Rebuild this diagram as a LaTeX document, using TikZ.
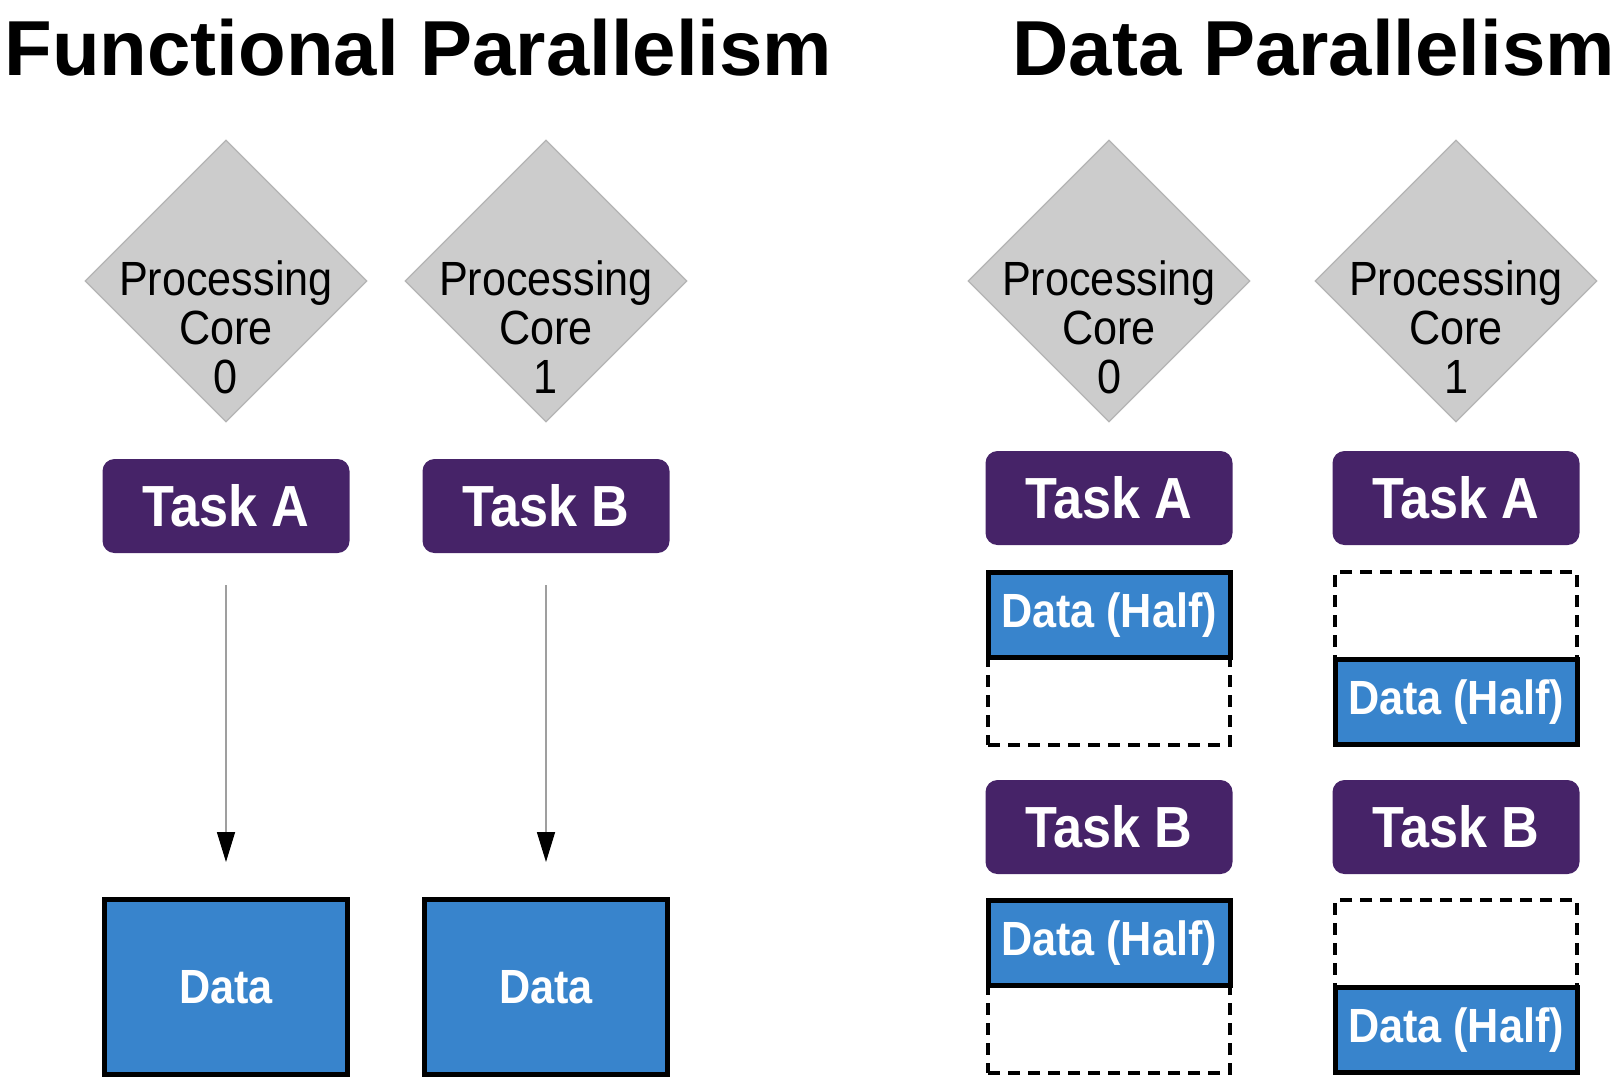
\documentclass[tikz,border=0pt]{standalone}
\usepackage{fontspec}
\setmainfont{Liberation Sans}
\newfontfamily\boxfont[FakeStretch=0.9]{Liberation Sans}
\usetikzlibrary{shapes.geometric,arrows.meta}
\definecolor{taskpurple}{RGB}{70,35,104}
\definecolor{datablue}{RGB}{56,132,204}
\definecolor{coregray}{RGB}{204,204,204}
\definecolor{coreedge}{RGB}{180,180,180}
\tikzset{
  heading/.style={anchor=base west, inner sep=0pt, font=\bfseries\fontsize{39}{41}\selectfont},
  core/.style={diamond, aspect=1, inner sep=0pt, minimum width=141pt, minimum height=141pt,
    fill=coregray, draw=coreedge, line width=0.6pt},
  coretxt/.style={align=center, yshift=-23pt, inner sep=0pt, font=\boxfont\fontsize{24}{24.5}\selectfont},
  task/.style={rounded corners=6pt, fill=taskpurple, text=white, minimum width=123.5pt,
    minimum height=47pt, inner sep=0pt, font=\boxfont\bfseries\fontsize{29}{31}\selectfont},
  data/.style={fill=datablue, draw=black, line width=2.5pt, text=white, inner sep=0pt,
    minimum width=121.5pt, minimum height=87.5pt, font=\boxfont\bfseries\fontsize{24}{26}\selectfont},
  slot/.style={draw=black, line width=2.4pt, dash pattern=on 6pt off 4pt, inner sep=0pt,
    minimum width=121pt, minimum height=86.5pt},
  half/.style={data, minimum width=121pt, minimum height=42.5pt},
  flow/.style={draw=gray!75, line width=0.8pt, -{Triangle[length=15pt,width=9pt,black]},
    shorten <=16pt, shorten >=17.5pt}
}
\begin{document}
\begin{tikzpicture}[x=0.5pt, y=-0.5pt]
  \useasboundingbox (0,0) rectangle (1616,1084);
  \node[heading] (funtitle) at (4,75) {Functional Parallelism};
  \node[heading] (dattitle) at (1012,75) {Data Parallelism};
  % functional parallelism: one task per core, whole data
  \foreach \i/\x/\t in {0/226/A,1/546/B} {
    \node[core, label={[coretxt]center:{Processing\\Core\\\i}}] (fcore\i) at (\x,281) {};
    \node[task] (ftask\i) at (\x,506) {Task \t};
    \node[data] (fdata\i) at (\x,987) {Data};
    \draw[flow] (ftask\i) -- (fdata\i);
  }
  % data parallelism: both tasks per core, half the data each
  \foreach \j/\x/\pos in {0/1109/north,1/1456/south} {
    \node[core, label={[coretxt]center:{Processing\\Core\\\j}}] (dcore\j) at (\x,281) {};
    \node[task] (dtaskA\j) at (\x,498) {Task A};
    \node[slot] (slotA\j) at (\x,658.5) {};
    \node[half, anchor=\pos] (halfA\j) at (slotA\j.\pos) {Data (Half)};
    \node[task] (dtaskB\j) at (\x,827) {Task B};
    \node[slot] (slotB\j) at (\x,986.5) {};
    \node[half, anchor=\pos] (halfB\j) at (slotB\j.\pos) {Data (Half)};
  }
\end{tikzpicture}
\end{document}
